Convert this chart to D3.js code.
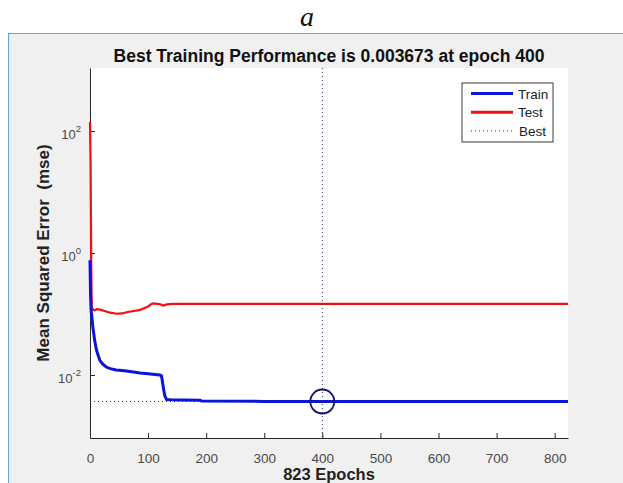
<!DOCTYPE html>
<html>
<head>
<meta charset="utf-8">
<script src="https://cdn.jsdelivr.net/npm/d3@7"></script>
<style>
  body { margin: 0; background: #fff; }
  svg { display: block; }
</style>
</head>
<body>
<svg id="chart"></svg>
<script>
// values
const trainEpochs = [0, 1, 2, 3, 5, 8, 11, 14, 17, 22, 28, 35, 45, 55, 63, 75, 86, 100, 112, 120, 123, 125, 127, 129, 132, 140, 160, 190, 192, 300, 400, 500, 600, 700, 823];
const trainMse = [0.76, 0.2, 0.11, 0.095, 0.06, 0.037, 0.026, 0.021, 0.0174, 0.015, 0.0135, 0.0127, 0.0121, 0.0118, 0.0116, 0.0112, 0.0108, 0.0105, 0.0102, 0.01, 0.0097, 0.0075, 0.0056, 0.0045, 0.00395, 0.00392, 0.0039, 0.00386, 0.00373, 0.00369, 0.003673, 0.003672, 0.00367, 0.00367, 0.00367];

const testEpochs = [0, 1, 2, 3, 5, 8, 12, 17, 25, 35, 46, 55, 65, 75, 85, 92, 100, 105, 109, 115, 120, 126, 132, 143, 160, 190, 300, 400, 500, 600, 700, 823];
const testMse = [140, 30, 0.8, 0.115, 0.12, 0.114, 0.12, 0.118, 0.112, 0.105, 0.101, 0.102, 0.108, 0.112, 0.116, 0.123, 0.132, 0.145, 0.149, 0.147, 0.145, 0.138, 0.144, 0.146, 0.146, 0.146, 0.146, 0.146, 0.146, 0.146, 0.146, 0.146];

const bestEpoch = 400;
const bestMse = 0.003673;
const maxEpoch = 823;
const xTicks = [0, 100, 200, 300, 400, 500, 600, 700, 800];
const yTickExps = [-2, 0, 2];
const legendItems = ["Train", "Test", "Best"];

const width = 623, height = 483;
const plot = { left: 90, right: 568, top: 68, bottom: 438 };

const svg = d3.select("#chart").attr("width", width).attr("height", height);

// figure panel
svg.append("rect").attr("x", 8).attr("y", 33).attr("width", width - 8).attr("height", height - 33)
  .attr("fill", "#f0f0f0");
svg.append("line").attr("x1", 8).attr("x2", width).attr("y1", 33.5).attr("y2", 33.5)
  .attr("stroke", "#9a9a9a");
svg.append("line").attr("x1", 8.5).attr("x2", 8.5).attr("y1", 33).attr("y2", height)
  .attr("stroke", "#6fa3d8");
svg.append("rect").attr("x", 9).attr("y", 34).attr("width", 2).attr("height", height - 34)
  .attr("fill", "#e3eef9");

svg.append("text").attr("x", 307).attr("y", 26)
  .attr("text-anchor", "middle")
  .attr("font-family", "Liberation Serif, serif").attr("font-style", "italic")
  .attr("font-size", 28).attr("fill", "#111")
  .text("a");

svg.append("rect").attr("x", plot.left).attr("y", plot.top)
  .attr("width", plot.right - plot.left).attr("height", plot.bottom - plot.top)
  .attr("fill", "#fff");

const x = d3.scaleLinear().domain([0, maxEpoch]).range([plot.left, plot.right]);
const y = d3.scaleLog().domain([Math.pow(10, -3.033), Math.pow(10, 3.033)]).range([plot.bottom, plot.top]);

const font = "Liberation Sans, Arial, sans-serif";

// x axis
const xAxis = svg.append("g")
  .attr("transform", `translate(0,${plot.bottom})`)
  .call(d3.axisBottom(x).tickValues(xTicks).tickSizeInner(-5).tickSizeOuter(0).tickPadding(15));
xAxis.select(".domain").attr("stroke", "#262626");
xAxis.selectAll(".tick line").attr("stroke", "#262626");
xAxis.selectAll("text").attr("font-family", font).attr("font-size", 13.5).attr("fill", "#4a4a4a");

// y axis
const yAxis = svg.append("g")
  .attr("transform", `translate(${plot.left},0)`)
  .call(d3.axisLeft(y).tickValues(yTickExps.map(e => Math.pow(10, e))).tickSizeInner(-5).tickSizeOuter(0).tickFormat(""));
yAxis.select(".domain").attr("stroke", "#262626");
yAxis.selectAll(".tick line").attr("stroke", "#262626");

yTickExps.forEach(e => {
  const t = svg.append("text")
    .attr("x", 81).attr("y", y(Math.pow(10, e)) + 8)
    .attr("text-anchor", "end")
    .attr("font-family", font).attr("font-size", 13).attr("fill", "#4a4a4a");
  t.append("tspan").text("10");
  t.append("tspan").attr("dy", -7).attr("font-size", 9.5).text(e);
});

// lines
const line = d3.line().x(d => x(d[0])).y(d => y(d[1]));

svg.append("path")
  .datum(testEpochs.map((e, i) => [e, testMse[i]]))
  .attr("fill", "none").attr("stroke", "#f01010").attr("stroke-width", 2.2)
  .attr("d", line);

svg.append("path")
  .datum(trainEpochs.map((e, i) => [e, trainMse[i]]))
  .attr("fill", "none").attr("stroke", "#0a14dc").attr("stroke-width", 3)
  .attr("d", line);

// best markers
svg.append("line")
  .attr("x1", x(bestEpoch)).attr("x2", x(bestEpoch))
  .attr("y1", plot.top).attr("y2", plot.bottom)
  .attr("stroke", "#2a2a5a").attr("stroke-width", 1).attr("stroke-dasharray", "1,3");
svg.append("line")
  .attr("x1", x(0)).attr("x2", x(bestEpoch))
  .attr("y1", y(bestMse)).attr("y2", y(bestMse))
  .attr("stroke", "#2a2a5a").attr("stroke-width", 1).attr("stroke-dasharray", "1,3");
svg.append("circle")
  .attr("cx", x(bestEpoch)).attr("cy", y(bestMse)).attr("r", 12)
  .attr("fill", "none").attr("stroke", "#121270").attr("stroke-width", 1.8);

// title and labels
svg.append("text").attr("x", (plot.left + plot.right) / 2).attr("y", 61.5)
  .attr("text-anchor", "middle").attr("font-family", font).attr("font-weight", "bold")
  .attr("font-size", 17.5).attr("fill", "#111")
  .text(`Best Training Performance is ${bestMse} at epoch ${bestEpoch}`);

svg.append("text").attr("x", (plot.left + plot.right) / 2).attr("y", 479.5)
  .attr("text-anchor", "middle").attr("font-family", font).attr("font-weight", "bold")
  .attr("font-size", 16.5).attr("fill", "#222")
  .text(`${maxEpoch} Epochs`);

svg.append("text")
  .attr("transform", `translate(49,${(plot.top + plot.bottom) / 2}) rotate(-90)`)
  .attr("text-anchor", "middle").attr("font-family", font).attr("font-weight", "bold")
  .attr("font-size", 17).attr("fill", "#222")
  .attr("xml:space", "preserve")
  .text("Mean Squared Error  (mse)");

// legend
const lg = svg.append("g");
lg.append("rect").attr("x", 462).attr("y", 83).attr("width", 91).attr("height", 59)
  .attr("fill", "#fff").attr("stroke", "#3a3a3a").attr("stroke-width", 1);
const legendStyle = {
  Train: { stroke: "#0a14dc", width: 3, dash: null },
  Test: { stroke: "#f01010", width: 3, dash: null },
  Best: { stroke: "#2a2a5a", width: 1, dash: "1,3" }
};
legendItems.forEach((k, i) => {
  const yy = 93.5 + i * 18.7;
  const s = legendStyle[k];
  lg.append("line").attr("x1", 471).attr("x2", 513).attr("y1", yy).attr("y2", yy)
    .attr("stroke", s.stroke).attr("stroke-width", s.width)
    .attr("stroke-dasharray", s.dash);
  lg.append("text").attr("x", k === "Best" ? 519 : 518).attr("y", yy + 5)
    .attr("font-family", font).attr("font-size", 13.5).attr("fill", "#222")
    .text(k);
});
</script>
</body>
</html>
